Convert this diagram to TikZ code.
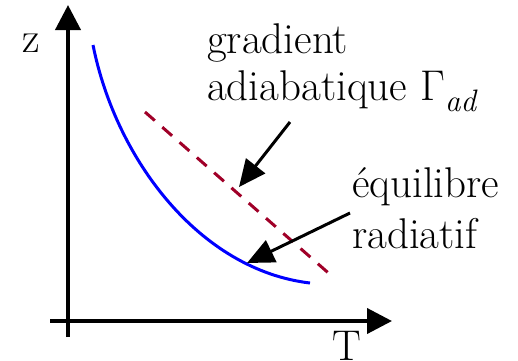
\documentclass[tikz,border=0pt]{standalone}
\usepackage{fontspec}
\usetikzlibrary{arrows.meta}
\definecolor{adred}{RGB}{160,0,40}
\tikzset{
  axis/.style={line width=4pt,-{Triangle[length=25pt,width=25pt]}},
  pointer/.style={line width=3pt,-{Triangle[length=27pt,width=24pt]}},
  lbl/.style={anchor=base west,inner sep=0pt,font=\fontsize{43}{50}\selectfont},
  radcurve/.style={blue,line width=3pt},
  adline/.style={adred,line width=3pt,dash pattern=on 13pt off 10pt}
}
\begin{document}
\begin{tikzpicture}[x=1pt,y=-1pt]
\useasboundingbox (0,0) rectangle (518,360);
% axes
\coordinate (zlow) at (68,337);
\coordinate (ztop) at (68,5);
\coordinate (tleft) at (50,321);
\coordinate (tright) at (392,321);
\draw[axis] (zlow) -- (ztop);
\draw[axis] (tleft) -- (tright);
\node[lbl] (zlab) at (22,52) {z};
\node[lbl] (tlab) at (332,360) {T};
% curves
\coordinate (rA) at (93,45);
\coordinate (rB) at (310,283);
\draw[radcurve] (rA) .. controls (116,160) and (200,270) .. (rB);
\coordinate (adA) at (145,112);
\coordinate (adB) at (333,277);
\draw[adline] (adA) -- (adB);
% labels
\node[lbl] (gradA) at (207,53) {gradient};
\node[lbl] (gradB) at (207,100) {adiabatique Γ\raisebox{-11pt}{\fontsize{31}{31}\selectfont\itshape ad}};
\node[lbl] (equiA) at (352,197) {équilibre};
\node[lbl] (equiB) at (352,248) {radiatif};
% pointers
\coordinate (p1s) at (290,122);
\coordinate (p1e) at (239,187);
\coordinate (p2s) at (350,213);
\coordinate (p2e) at (247,263);
\draw[pointer] (p1s) -- (p1e);
\draw[pointer] (p2s) -- (p2e);
\end{tikzpicture}
\end{document}
